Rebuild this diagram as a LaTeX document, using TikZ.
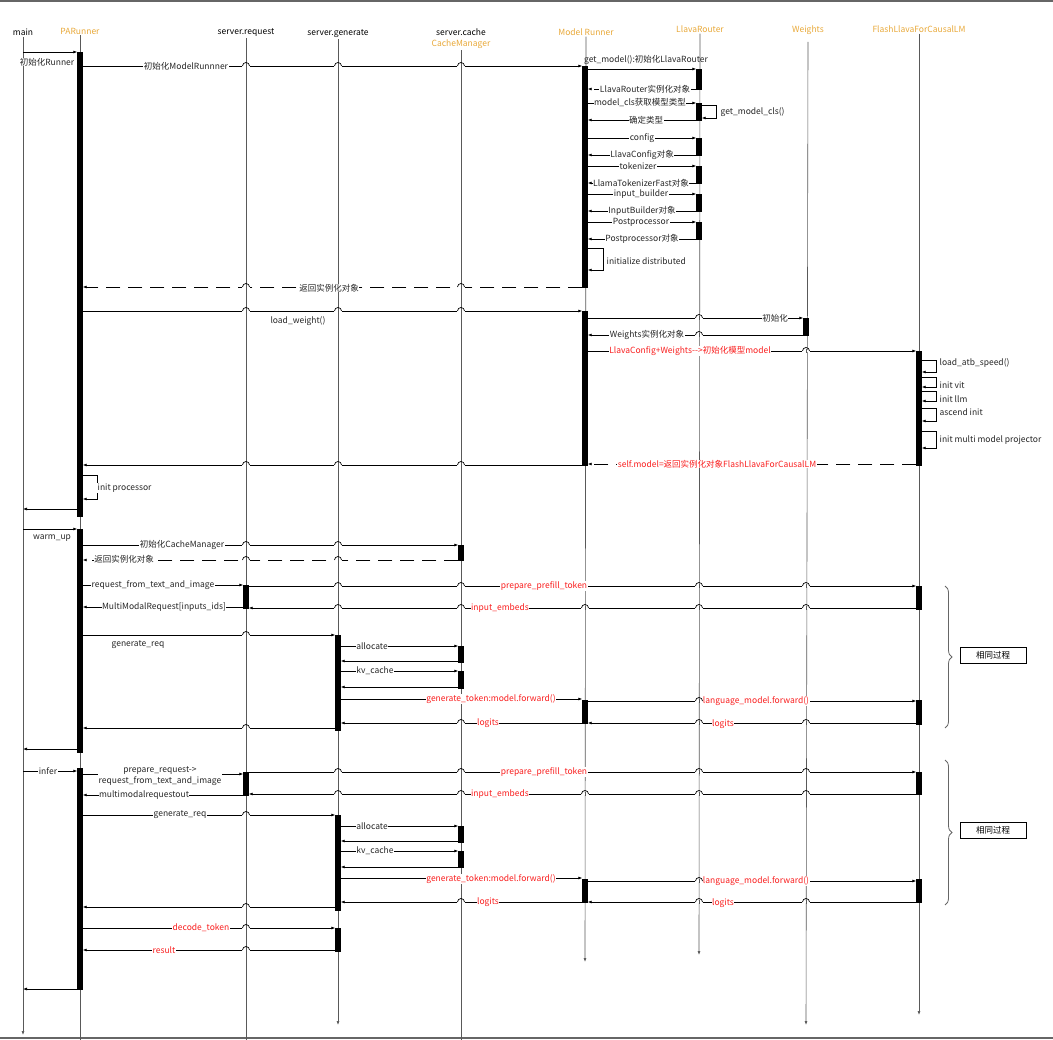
\documentclass[tikz,border=0pt]{standalone}
\usepackage{fontspec}
\setmainfont{Noto Sans CJK SC}
\usepackage{xcolor}
\usepackage{tikz}
\usetikzlibrary{arrows.meta,positioning,decorations.pathreplacing}
\definecolor{laranja}{RGB}{232,168,56}
\definecolor{vermelho}{RGB}{250,30,30}
\tikzset{
    cabecalho/.style={
        font=\fontsize{8.5}{11}\selectfont,
        inner sep=1pt,
        text=laranja
    },
    linhaVida/.style={draw=black!65, line width=0.6pt},
    fimVida/.style={linhaVida, -{Latex[length=4pt,width=3pt]}},
    ativacao/.style={
        rectangle,
        draw=black,
        fill=black,
        minimum width=5pt,
        inner sep=0pt
    },
    mensagem/.style={-{Latex[length=4pt,width=3pt]}, line width=0.7pt},
    retorno/.style={mensagem, dash pattern=on 14pt off 8pt},
    rotulo/.style={font=\fontsize{8.5}{11}\selectfont, fill=white, inner sep=0.5pt, text=black!85},
    rotuloVermelho/.style={rotulo, text=vermelho},
    chave/.style={decorate, decoration={brace, amplitude=7pt}, draw=black!60, line width=0.8pt},
    nota/.style={draw, line width=0.6pt, minimum width=66pt, minimum height=16pt,
        inner sep=1pt, font=\fontsize{8.5}{11}\selectfont}
}
% barra de ativacao: nome, x, y inicial, y final
\newcommand{\barra}[4]{\node[ativacao, minimum height={(#4-#3)*1pt}] (#1) at (#2,{(#3+#4)/2}) {};}

\begin{document}
\begin{tikzpicture}[x=1pt, y=-1pt]
    \useasboundingbox (0,0) rectangle (1053,1040);
    \draw[black!60, line width=1.2pt] (0,1) -- (1053,1);
    \draw[black!60, line width=1.2pt] (0,1038) -- (1053,1038);

    % cabecalhos
    \node[cabecalho, text=black] (main) at (23,32) {main};
    \node[cabecalho] (runner) at (80,31) {PARunner};
    \node[cabecalho, text=black] (req) at (246,33) {server.request};
    \node[cabecalho, text=black] (gen) at (338,34) {server.generate};
    \node[cabecalho, text=black, align=center] (cache) at (461,39) {server.cache\\\textcolor{laranja}{CacheManager}};
    \node[cabecalho] (mr) at (586,32) {Model Runner};
    \node[cabecalho] (router) at (700,29) {LlavaRouter};
    \node[cabecalho] (pesos) at (808,30) {Weights};
    \node[cabecalho] (flash) at (919,29) {FlashLlavaForCausalLM};

    \coordinate (mainFim) at (23,1035);
    \coordinate (runnerFim) at (80,1040);
    \coordinate (reqFim) at (246,1040);
    \coordinate (genFim) at (338,1025);
    \coordinate (cacheFim) at (461,1040);
    \coordinate (mrFim) at (585,962);
    \coordinate (routerFim) at (699,955);
    \coordinate (pesosFim) at (806,1025);
    \coordinate (flashFim) at (919,1015);

    \draw[fimVida] (main) -- (mainFim);
    \draw[linhaVida] (runner) -- (runnerFim);
    \draw[linhaVida] (req) -- (reqFim);
    \draw[fimVida] (gen) -- (genFim);
    \draw[linhaVida] (cache) -- (cacheFim);
    \draw[fimVida] (mr) -- (mrFim);
    \draw[fimVida] (router) -- (routerFim);
    \draw[fimVida] (pesos.south |- 0,42) -- (pesosFim);
    \draw[fimVida] (flash) -- (flashFim);

    % ativacoes
    \barra{r1}{80}{52}{516}
    \barra{r2}{80}{529}{752}
    \barra{r3}{80}{768}{989}
    \barra{mr1}{585}{66}{287}
    \barra{mr2}{585}{311}{465}
    \barra{mr3}{585}{700}{723}
    \barra{mr4}{585}{879}{902}
    \barra{lr1}{699}{69}{89}
    \barra{lr2}{699}{103}{120}
    \barra{lr3}{699}{138}{155}
    \barra{lr4}{699}{166}{183}
    \barra{lr5}{699}{194}{211}
    \barra{lr6}{699}{222}{239}
    \barra{w1}{806}{318}{335}
    \barra{f1}{919}{351}{465}
    \barra{f2}{919}{586}{609}
    \barra{f3}{919}{700}{724}
    \barra{f4}{919}{772}{794}
    \barra{f5}{919}{879}{902}
    \barra{c1}{461}{545}{560}
    \barra{c2}{461}{646}{662}
    \barra{c3}{461}{671}{688}
    \barra{c4}{461}{826}{842}
    \barra{c5}{461}{851}{867}
    \barra{q1}{246}{585}{608}
    \barra{q2}{246}{772}{795}
    \barra{g1}{338}{635}{730}
    \barra{g2}{338}{815}{910}
    \barra{g3}{338}{928}{951}

    % inicializacao
    \draw[mensagem] (main |- 0,52) -- (r1.west |- 0,52);
    \node[rotulo] (tRunner) at (47,62) {初始化Runner};
    \draw[mensagem] (r1.east |- 0,66) -- (mr1.west |- 0,66) node[rotulo] (tMr) at (186,66) {初始化ModelRunnner};
    \draw[mensagem] (mr1.east |- 0,69) -- (lr1.west |- 0,69);
    \node[rotulo, fill=none] (tGet) at (646,60) {get\_model():初始化LlavaRouter};
    \draw[retorno] (lr1.west |- 0,89) -- (mr1.east |- 0,89) node[rotulo] (tLr) at (645,89) {LlavaRouter实例化对象};
    \draw[mensagem] (mr1.east |- 0,103) -- (lr2.west |- 0,103) node[rotulo] (tCls) at (640,103) {model\_cls获取模型类型};
    \draw[mensagem] (lr2.east |- 0,105) -- ++(15,0) |- (lr2.east |- 0,118);
    \node[rotulo, anchor=west] (tGetCls) at (720,112) {get\_model\_cls()};
    \draw[mensagem] (lr2.west |- 0,120) -- (mr1.east |- 0,120) node[rotulo] (tTipo) at (646,120) {确定类型};
    \draw[mensagem] (mr1.east |- 0,138) -- (lr3.west |- 0,138) node[rotulo] (tCfg) at (642,138) {config};
    \draw[mensagem] (lr3.west |- 0,155) -- (mr1.east |- 0,155) node[rotulo] (tCfgObj) at (642,155) {LlavaConfig对象};
    \draw[mensagem] (mr1.east |- 0,166) -- (lr4.west |- 0,166) node[rotulo] (tTok) at (638,166) {tokenizer};
    \draw[mensagem] (lr4.west |- 0,183) -- (mr1.east |- 0,183) node[rotulo] (tTokObj) at (641,183) {LlamaTokenizerFast对象};
    \draw[mensagem] (mr1.east |- 0,194) -- (lr5.west |- 0,194) node[rotulo] (tIb) at (641,194) {input\_builder};
    \draw[mensagem] (lr5.west |- 0,211) -- (mr1.east |- 0,211) node[rotulo] (tIbObj) at (642,211) {InputBuilder对象};
    \draw[mensagem] (mr1.east |- 0,222) -- (lr6.west |- 0,222) node[rotulo] (tPp) at (641,222) {Postprocessor};
    \draw[mensagem] (lr6.west |- 0,239) -- (mr1.east |- 0,239) node[rotulo] (tPpObj) at (642,239) {Postprocessor对象};
    \draw[mensagem] (mr1.east |- 0,248) -- ++(16,0) |- (mr1.east |- 0,270);
    \node[rotulo, anchor=west] (tDist) at (606,261) {initialize distributed};
    \draw[retorno] (mr1.west |- 0,287) -- (r1.east |- 0,287) node[rotulo] (tRet1) at (329,288) {返回实例化对象};

    % pesos e modelo
    \draw[mensagem] (r1.east |- 0,311) -- (mr2.west |- 0,311);
    \node[rotulo, fill=none] (tLoad) at (298,321) {load\_weight()};
    \draw[mensagem] (mr2.east |- 0,318) -- (w1.west |- 0,318) node[rotulo] (tIni) at (775,318) {初始化};
    \draw[mensagem] (w1.west |- 0,335) -- (mr2.east |- 0,335) node[rotulo] (tW) at (647,335) {Weights实例化对象};
    \draw[mensagem] (mr2.east |- 0,351) -- (f1.west |- 0,351) node[rotuloVermelho] (tModel) at (690,351) {LlavaConfig+Weights-{}->初始化模型model};
    \draw[mensagem] (f1.east |- 0,360) -- ++(15,0) |- (f1.east |- 0,372);
    \node[rotulo, anchor=west] (tAtb) at (939,363) {load\_atb\_speed()};
    \draw[mensagem] (f1.east |- 0,377) -- ++(15,0) |- (f1.east |- 0,387);
    \node[rotulo, anchor=west] (tVit) at (939,385) {init vit};
    \draw[mensagem] (f1.east |- 0,391) -- ++(15,0) |- (f1.east |- 0,401);
    \node[rotulo, anchor=west] (tLlm) at (939,399) {init llm};
    \draw[mensagem] (f1.east |- 0,408) -- ++(15,0) |- (f1.east |- 0,421);
    \node[rotulo, anchor=west] (tAsc) at (939,412) {ascend init};
    \draw[mensagem] (f1.east |- 0,431) -- ++(15,0) |- (f1.east |- 0,448);
    \node[rotulo, anchor=west] (tProj) at (939,440) {init multi model projector};
    \draw[retorno] (f1.west |- 0,464) -- (mr2.east |- 0,464) node[rotuloVermelho] (tSelf) at (717,464) {self.model=返回实例化对象FlashLlavaForCausalLM};
    \draw[mensagem] (mr2.west |- 0,465) -- (r1.east |- 0,465);
    \draw[mensagem] (r1.east |- 0,475) -- ++(15,0) |- (r1.east |- 0,499);
    \node[rotulo, anchor=west] (tProc) at (97,488) {init processor};
    \draw[mensagem] (r1.west |- 0,509) -- (main |- 0,509);

    % warm_up
    \draw[mensagem] (main |- 0,529) -- (r2.west |- 0,529);
    \node[rotulo] (tWarm) at (52,538) {warm\_up};
    \draw[mensagem] (r2.east |- 0,545) -- (c1.west |- 0,545) node[rotulo] (tCm) at (182,545) {初始化CacheManager};
    \draw[retorno] (c1.west |- 0,560) -- (r2.east |- 0,560) node[rotulo] (tRet2) at (124,559) {返回实例化对象};
    \draw[mensagem] (r2.east |- 0,585) -- (q1.west |- 0,585) node[rotulo] (tReq1) at (153,585) {request\_from\_text\_and\_image};
    \draw[mensagem] (q1.east |- 0,586) -- (f2.west |- 0,586) node[rotuloVermelho] (tPre1) at (544,586) {prepare\_prefill\_token};
    \draw[mensagem] (f2.west |- 0,608) -- (q1.east |- 0,608) node[rotuloVermelho] (tEmb1) at (500,608) {input\_embeds};
    \draw[mensagem] (q1.west |- 0,607) -- (r2.east |- 0,607) node[rotulo] (tMm) at (164,607) {MultiModalRequest[inputs\_ids]};
    \draw[mensagem] (r2.east |- 0,635) -- (g1.west |- 0,635);
    \node[rotulo, fill=none] (tGen1) at (138,645) {generate\_req};
    \draw[mensagem] (g1.east |- 0,646) -- (c2.west |- 0,646) node[rotulo] (tAl1) at (372,646) {allocate};
    \draw[mensagem] (c2.west |- 0,661) -- (g1.east |- 0,661);
    \draw[mensagem] (g1.east |- 0,671) -- (c3.west |- 0,671) node[rotulo] (tKv1) at (375,671) {kv\_cache};
    \draw[mensagem] (c3.west |- 0,687) -- (g1.east |- 0,687);
    \draw[mensagem] (g1.east |- 0,699) -- (mr3.west |- 0,699) node[rotuloVermelho] (tFw1) at (491,699) {generate\_token:model.forward()};
    \draw[mensagem] (mr3.east |- 0,701) -- (f3.west |- 0,701) node[rotuloVermelho] (tLm1) at (756,701) {language\_model.forward()};
    \draw[mensagem] (f3.west |- 0,723) -- (mr3.east |- 0,723) node[rotuloVermelho] (tLg1) at (723,724) {logits};
    \draw[mensagem] (mr3.west |- 0,723) -- (g1.east |- 0,723) node[rotuloVermelho] (tLg2) at (488,723) {logits};
    \draw[mensagem] (g1.west |- 0,728) -- (r2.east |- 0,728);
    \draw[mensagem] (r2.west |- 0,749) -- (main |- 0,749);

    % infer
    \draw[mensagem] (main |- 0,771) -- (r3.west |- 0,771) node[rotulo] (tInfer) at (48,771) {infer};
    \draw[mensagem] (r3.east |- 0,774) -- (q2.west |- 0,774) node[rotulo, align=center] (tReq2) at (160,776) {prepare\_request->\\request\_from\_text\_and\_image};
    \draw[mensagem] (q2.east |- 0,772) -- (f4.west |- 0,772) node[rotuloVermelho] (tPre2) at (544,772) {prepare\_prefill\_token};
    \draw[mensagem] (f4.west |- 0,794) -- (q2.east |- 0,794) node[rotuloVermelho] (tEmb2) at (500,794) {input\_embeds};
    \draw[mensagem] (q2.west |- 0,795) -- (r3.east |- 0,795) node[rotulo] (tOut) at (144,795) {multimodalrequestout};
    \draw[mensagem] (r3.east |- 0,815) -- (g2.west |- 0,815) node[rotulo] (tGen2) at (180,815) {generate\_req};
    \draw[mensagem] (g2.east |- 0,826) -- (c4.west |- 0,826) node[rotulo] (tAl2) at (372,826) {allocate};
    \draw[mensagem] (c4.west |- 0,841) -- (g2.east |- 0,841);
    \draw[mensagem] (g2.east |- 0,851) -- (c5.west |- 0,851) node[rotulo] (tKv2) at (375,851) {kv\_cache};
    \draw[mensagem] (c5.west |- 0,867) -- (g2.east |- 0,867);
    \draw[mensagem] (g2.east |- 0,878) -- (mr4.west |- 0,878) node[rotuloVermelho] (tFw2) at (491,879) {generate\_token:model.forward()};
    \draw[mensagem] (mr4.east |- 0,881) -- (f5.west |- 0,881) node[rotuloVermelho] (tLm2) at (756,881) {language\_model.forward()};
    \draw[mensagem] (f5.west |- 0,902) -- (mr4.east |- 0,902) node[rotuloVermelho] (tLg3) at (723,903) {logits};
    \draw[mensagem] (mr4.west |- 0,902) -- (g2.east |- 0,902) node[rotuloVermelho] (tLg4) at (488,902) {logits};
    \draw[mensagem] (g2.west |- 0,907) -- (r3.east |- 0,907);
    \draw[mensagem] (r3.east |- 0,928) -- (g3.west |- 0,928) node[rotuloVermelho] (tDec) at (201,928) {decode\_token};
    \draw[mensagem] (g3.west |- 0,950) -- (r3.east |- 0,950) node[rotuloVermelho] (tRes) at (164,950) {result};
    \draw[mensagem] (r3.west |- 0,989) -- (main |- 0,989);

    % saltos nos cruzamentos
    \foreach \x/\y in {246/66, 338/66, 461/66, 246/287, 461/287, 246/311, 338/311, 461/311,
        699/318, 699/335, 806/351, 246/465, 338/465, 461/465, 246/545, 338/545, 246/560, 338/560,
        338/586, 461/586, 699/586, 806/586, 338/608, 461/608, 585/608, 699/608, 806/608,
        246/635, 699/701, 806/723, 699/723, 461/723, 246/728,
        338/772, 461/772, 699/772, 806/772, 338/794, 461/794, 585/794, 699/794, 806/794,
        246/815, 699/881, 806/902, 699/902, 461/902, 246/907, 246/928, 246/950} {
        \fill[white] (\x-3.6,\y-1.2) rectangle (\x+3.6,\y+1.2);
        \draw[linhaVida] (\x,\y-2) -- (\x,\y+2);
        \draw[line width=0.7pt] (\x-3.5,\y) arc[start angle=180, end angle=0, radius=3.5pt];
    }

    % mesmo processo
    \draw[chave] (945,586) -- (945,728);
    \node[nota] (igual1) at (993,655) {相同过程};
    \draw[chave] (945,760) -- (945,905);
    \node[nota] (igual2) at (993,830) {相同过程};
\end{tikzpicture}
\end{document}
